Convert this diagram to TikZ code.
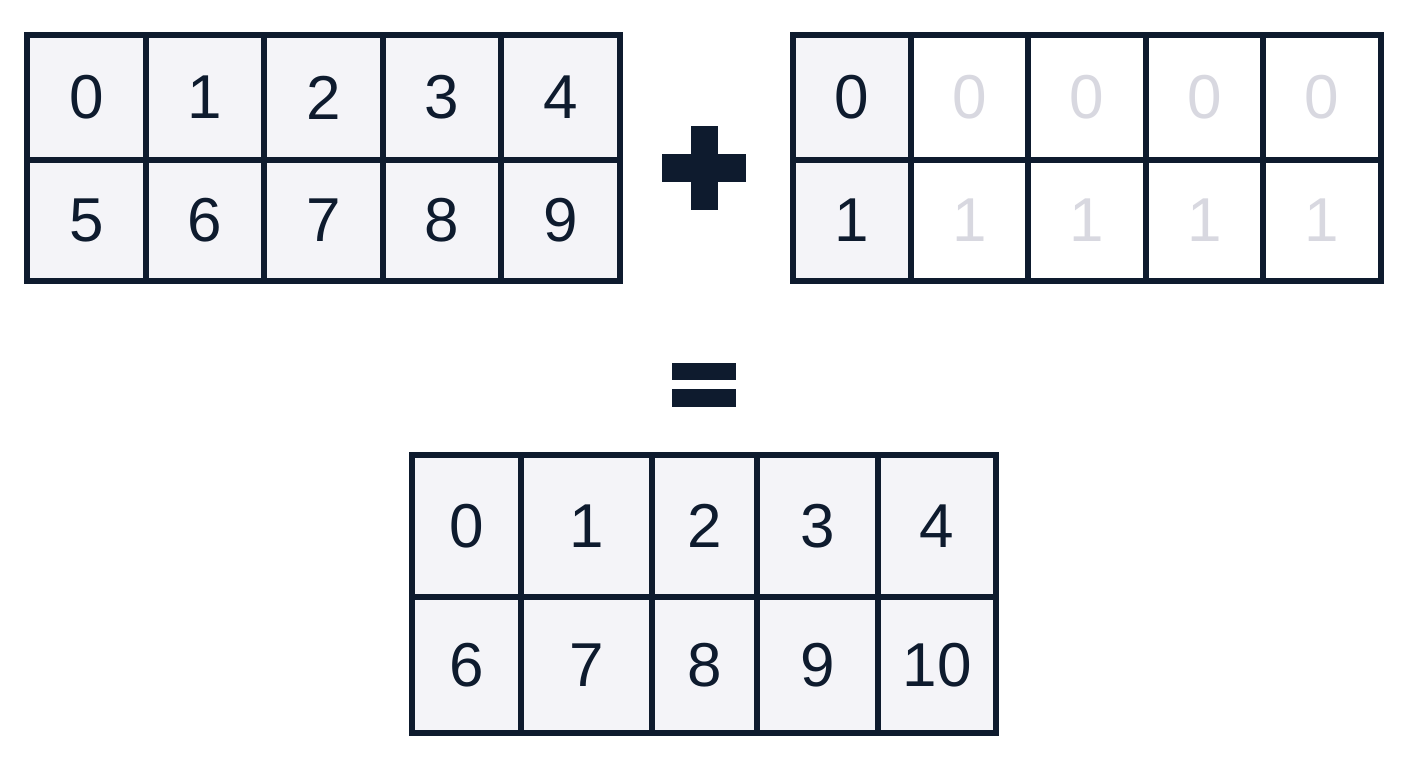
\documentclass[tikz,border=0pt]{standalone}
\usepackage{fontspec}
\setmainfont{Liberation Sans}
\usetikzlibrary{positioning}
\definecolor{gridnavy}{RGB}{14,27,46}
\definecolor{cellfill}{RGB}{244,244,248}
\definecolor{ghostgray}{RGB}{216,216,224}

\begin{document}
\begin{tikzpicture}[
    x=1pt, y=-1pt,
    cell/.style={rectangle, draw=gridnavy, fill=cellfill, line width=6pt, inner sep=0pt, font=\fontsize{62}{62}\selectfont, text=gridnavy},
    ghost/.style={cell, fill=white, text=ghostgray},
    sign/.style={fill=gridnavy}
]
    \useasboundingbox[fill=white] (0,0) rectangle (1408,768);

    % Left operand: 2 x 5 matrix
    \foreach \r/\cy/\h in {0/97.5/125, 1/220.5/121}
      \foreach \c in {0,...,4}{
        \pgfmathtruncatemacro{\v}{5*\r+\c}
        \node[cell, minimum width=118.6pt, minimum height=\h pt] (a-\r-\c) at ({27+118.6*(\c+0.5)}, \cy) {\v};
      }

    % Right operand: 2 x 1 column, broadcast (ghost copies)
    \foreach \r/\cy/\h in {0/97.5/125, 1/220.5/121}{
      \node[cell, minimum width=117.6pt, minimum height=\h pt] (b-\r-0) at (851.8, \cy) {\r};
      \foreach \c in {1,...,4}
        \node[ghost, minimum width=117.6pt, minimum height=\h pt] (b-\r-\c) at ({793+117.6*(\c+0.5)}, \cy) {\r};
    }

    % Result: 2 x 5 matrix
    \foreach \c/\cx/\w/\va/\vb in {0/466.5/109/0/6, 1/586.5/131/1/7, 2/704.5/105/2/8, 3/817.5/121/3/9, 4/937/118/4/10}{
      \node[cell, minimum width=\w pt, minimum height=142pt] (s-0-\c) at (\cx, 526) {\va};
      \node[cell, minimum width=\w pt, minimum height=136pt] (s-1-\c) at (\cx, 665) {\vb};
    }

    % Plus sign
    \fill[sign] (691,126) rectangle (718,210);
    \fill[sign] (662,154) rectangle (746,182);

    % Equals sign
    \fill[sign] (672,363) rectangle (736,380);
    \fill[sign] (672,389) rectangle (736,407);
\end{tikzpicture}
\end{document}
